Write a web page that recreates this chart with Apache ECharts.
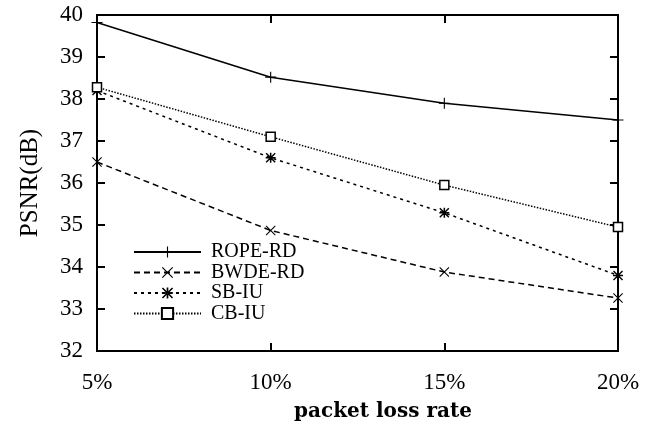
<!doctype html>
<html>
	<head>
		<meta charset="utf-8">
		<title>PSNR vs packet loss rate</title>
		<script src="https://cdn.jsdelivr.net/npm/echarts@6/dist/echarts.min.js"></script>
		<style>
			html, body { margin: 0; padding: 0; background: #fff; }
			#chart { width: 647px; height: 426px; }
		</style>
	</head>
	<body>
		<div id="chart"></div>
		<script type="text/javascript">
			// x categories (packet loss rate)
			var lossRates = ['5%', '10%', '15%', '20%'];
			// PSNR(dB) per method
			var ropeRD = [39.82, 38.52, 37.9, 37.5];
			var bwdeRD = [36.5, 34.87, 33.88, 33.26];
			var sbIU = [38.2, 36.6, 35.29, 33.8];
			var cbIU = [38.28, 37.1, 35.95, 34.95];
			var yTicks = [32, 33, 34, 35, 36, 37, 38, 39, 40];

			var serif = 'Liberation Serif';
			var plusPath = 'path://M9,0H11V9H20V11H11V20H9V11H0V9H9Z';
			var crossPath = 'path://M0,1.5L1.5,0L10,8.5L18.5,0L20,1.5L11.5,10L20,18.5L18.5,20L10,11.5L1.5,20L0,18.5L8.5,10Z';
			var starPath = 'path://M8.5,0H11.5V8.5H20V11.5H11.5V20H8.5V11.5H0V8.5H8.5Z M0,2L2,0L10,8L18,0L20,2L12,10L20,18L18,20L10,12L2,20L0,18L8,10Z';

			var chart = echarts.init(document.getElementById('chart'));

			function mkSeries(name, data, symbol, size, dash) {
				return {
					name: name,
					type: 'line',
					data: data,
					symbol: symbol,
					symbolSize: size,
					showSymbol: true,
					animation: false,
					lineStyle: { color: '#000', width: 1.5, type: dash },
					itemStyle: { color: '#000', borderColor: '#000', borderWidth: 0 }
				};
			}

			var series = [
				mkSeries('ROPE-RD', ropeRD, plusPath, 11, 'solid'),
				mkSeries('BWDE-RD', bwdeRD, crossPath, 10, [6, 4]),
				mkSeries('SB-IU', sbIU, starPath, 10, [3, 4]),
				mkSeries('CB-IU', cbIU, 'rect', 9, [1.5, 1.5])
			];
			// open square marker
			series[3].itemStyle = { color: '#fff', borderColor: '#000', borderWidth: 1.5 };

			chart.setOption({
				backgroundColor: '#fff',
				title: {
					text: 'packet loss rate',
					left: 378,
					top: 397,
					textAlign: 'center',
					textStyle: { fontFamily: 'DejaVu Serif', fontWeight: 'bold', fontSize: 20, color: '#000' }
				},
				legend: {
					orient: 'vertical',
					left: 128,
					top: 237,
					itemWidth: 67,
					itemHeight: 14,
					itemGap: 0.5,
					data: ['ROPE-RD', 'BWDE-RD', 'SB-IU', 'CB-IU'],
					textStyle: { fontFamily: serif, fontSize: 20, color: '#000', padding: [0, 0, 0, 5] }
				},
				grid: {
					left: 97,
					right: 29,
					top: 15,
					bottom: 75,
					show: true,
					borderColor: '#000',
					borderWidth: 2,
					backgroundColor: 'transparent'
				},
				xAxis: [{
					type: 'category',
					data: lossRates,
					boundaryGap: false,
					axisLine: { lineStyle: { color: '#000', width: 2 } },
					axisTick: { inside: true, length: 8, lineStyle: { color: '#000', width: 2 } },
					axisLabel: { fontFamily: serif, fontSize: 23, color: '#000', margin: 20 },
					splitLine: { show: false }
				}, {
					type: 'category',
					data: lossRates,
					position: 'top',
					boundaryGap: false,
					axisLine: { lineStyle: { color: '#000', width: 2 } },
					axisTick: { inside: true, length: 8, lineStyle: { color: '#000', width: 2 } },
					axisLabel: { show: false },
					splitLine: { show: false }
				}],
				yAxis: [{
					type: 'value',
					min: 32,
					max: 40,
					interval: 1,
					name: 'PSNR(dB)',
					nameLocation: 'middle',
					nameGap: 54,
					nameTextStyle: { fontFamily: serif, fontSize: 25, color: '#000' },
					axisLine: { show: true, lineStyle: { color: '#000', width: 2 } },
					axisTick: { show: true, inside: true, length: 8, lineStyle: { color: '#000', width: 2 } },
					axisLabel: {
						fontFamily: serif, fontSize: 23, color: '#000', margin: 14,
						formatter: function(v) { return yTicks.indexOf(v) >= 0 ? String(v) : ''; }
					},
					splitLine: { show: false }
				}, {
					type: 'value',
					min: 32,
					max: 40,
					interval: 1,
					position: 'right',
					axisLine: { show: true, lineStyle: { color: '#000', width: 2 } },
					axisTick: { show: true, inside: true, length: 8, lineStyle: { color: '#000', width: 2 } },
					axisLabel: { show: false },
					splitLine: { show: false }
				}],
				series: series
			});
		</script>
	</body>
</html>
